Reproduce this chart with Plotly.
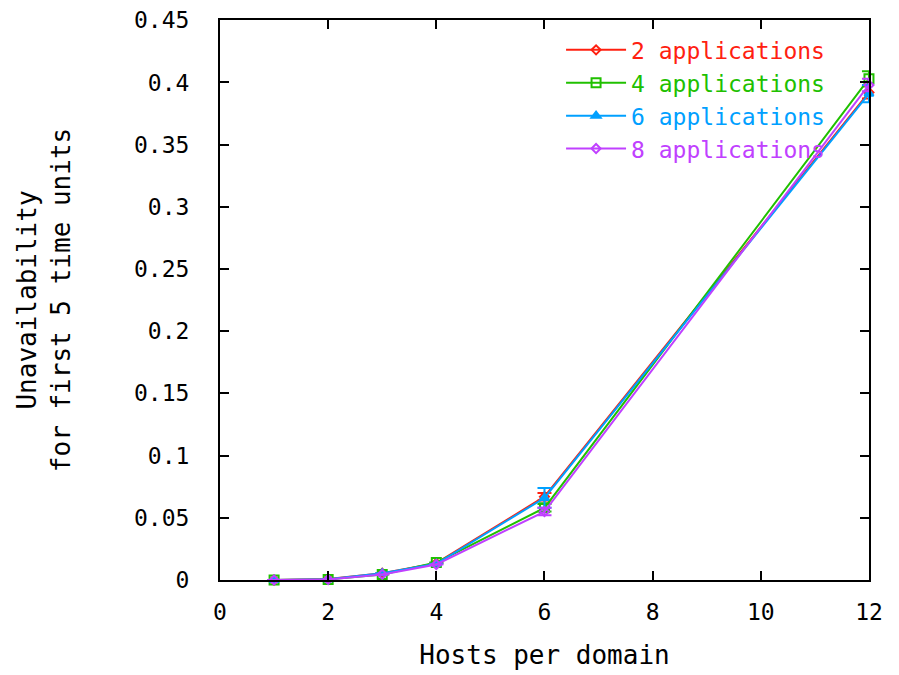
import plotly.graph_objects as go

hosts = [1, 2, 3, 4, 6, 12]
series_names = ["2 applications", "4 applications", "6 applications", "8 applications"]
unavail_2 = [0.0, 0.0008, 0.0055, 0.0135, 0.067, 0.392]
unavail_4 = [0.0, 0.0005, 0.0045, 0.0140, 0.058, 0.403]
unavail_6 = [0.0, 0.0006, 0.0055, 0.0130, 0.066, 0.391]
unavail_8 = [0.0, 0.0004, 0.0045, 0.0125, 0.055, 0.398]
err_2 = [0, 0, 0, 0, 0.003, 0.005]
err_4 = [0, 0, 0, 0, 0.003, 0.006]
err_6 = [0, 0, 0, 0, 0.008, 0.007]
err_8 = [0, 0, 0, 0, 0.003, 0.005]
y_ticks = [0, 0.05, 0.1, 0.15, 0.2, 0.25, 0.3, 0.35, 0.4, 0.45]
y_tick_labels = ["0", "0.05", "0.1", "0.15", "0.2", "0.25", "0.3", "0.35", "0.4", "0.45"]
x_ticks = [0, 2, 4, 6, 8, 10, 12]

colors = ["#ff2010", "#20c000", "#00a0ff", "#c040ff"]
symbols = ["diamond-open", "square-open", "triangle-up", "diamond-open"]
sizes = [7, 9, 8, 7]

font_family = "DejaVu Sans Mono, Liberation Mono, monospace"

fig = go.Figure()
for name, ys, errs, c, s, sz in zip(series_names, [unavail_2, unavail_4, unavail_6, unavail_8],
                                     [err_2, err_4, err_6, err_8], colors, symbols, sizes):
    fig.add_trace(go.Scatter(
        x=hosts, y=ys, mode="lines+markers",
        name=f"<span style='color:{c}'>{name}</span>",
        line=dict(color=c, width=2),
        marker=dict(symbol=s, size=sz, color=c, line=dict(color=c, width=2)),
        error_y=dict(type="data", array=errs, visible=True, color=c, thickness=2, width=7),
        cliponaxis=False,
    ))

axis_common = dict(
    showline=True, linecolor="black", linewidth=2, mirror="ticks",
    ticks="inside", ticklen=9, tickwidth=2, tickcolor="black",
    showgrid=False, zeroline=False, automargin=False, ticklabeloverflow="allow",
    tickfont=dict(family=font_family, size=23, color="black"),
)

fig.update_layout(
    width=899, height=675,
    margin=dict(l=212, r=38, t=12, b=103),
    paper_bgcolor="white", plot_bgcolor="white",
    font=dict(family=font_family, size=24, color="black"),
    xaxis=dict(range=[0, 12.0005], tickmode="array", tickvals=x_ticks, ticklabelstandoff=10,
               title=dict(text="Hosts per domain", font=dict(family=font_family, size=26), standoff=22),
               **axis_common),
    yaxis=dict(range=[0, 0.4502], tickmode="array", tickvals=y_ticks, ticktext=y_tick_labels,
               ticklabelstandoff=24,
               title=dict(text="Unavailability<br>for first 5 time units",
                          font=dict(family=font_family, size=26), standoff=56),
               **axis_common),
    legend=dict(x=0.94, y=0.985, xanchor="right", yanchor="top",
                bgcolor="rgba(0,0,0,0)", borderwidth=0,
                font=dict(family=font_family, size=23),
                itemwidth=60, tracegroupgap=0),
    showlegend=True,
)

fig.write_html("out.html")
